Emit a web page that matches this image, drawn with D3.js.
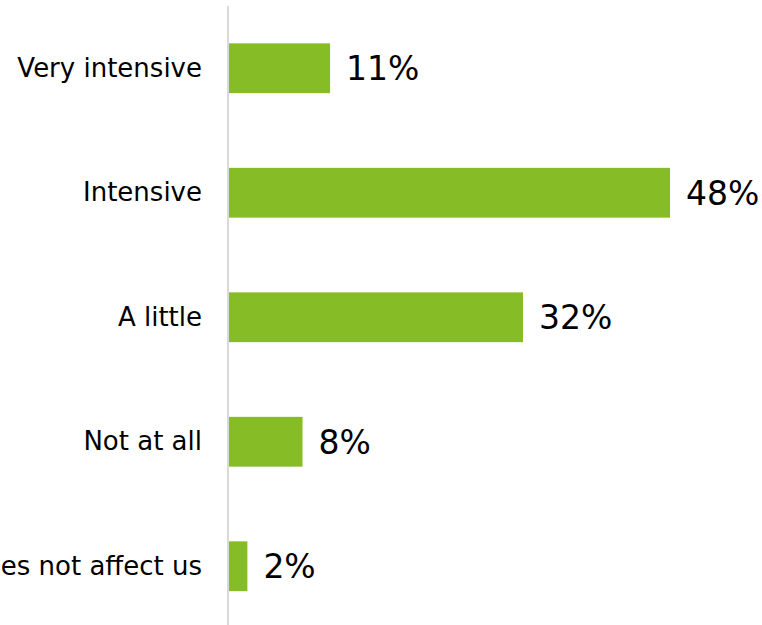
<!DOCTYPE html>
<html>
<head>
<meta charset="utf-8">
<script src="https://cdn.jsdelivr.net/npm/d3@7"></script>
<style>
  html, body { margin: 0; padding: 0; background: #fff; overflow: hidden; }
  text { font-family: Verdana, "DejaVu Sans", sans-serif; fill: #000; }
</style>
</head>
<body>
<div id="visualization"></div>
<script>
const categories = ['Very intensive', 'Intensive', 'A little', 'Not at all', 'Does not affect us'];
const values = [11, 48, 32, 8, 2];

document.addEventListener('DOMContentLoaded', () => {
    const width = 762;
    const height = 625;

    const svg = d3.select('#visualization')
        .append('svg')
        .attr('width', width)
        .attr('height', height);

    const xScale = d3.scaleLinear()
        .domain([0, 48])
        .range([229, 670]);

    const yScale = d3.scaleBand()
        .domain(categories)
        .range([6, 628.5])
        .paddingInner(0.6)
        .paddingOuter(0.3);

    // Bars
    svg.selectAll('rect.bar')
        .data(values)
        .enter()
        .append('rect')
        .attr('class', 'bar')
        .attr('x', xScale(0))
        .attr('y', (d, i) => yScale(categories[i]))
        .attr('width', d => xScale(d) - xScale(0))
        .attr('height', yScale.bandwidth())
        .attr('fill', '#86bc25');

    // Value labels
    svg.selectAll('text.value')
        .data(values)
        .enter()
        .append('text')
        .attr('class', 'value')
        .attr('x', d => xScale(d) + 16)
        .attr('y', (d, i) => yScale(categories[i]) + yScale.bandwidth() / 2)
        .attr('dy', '0.36em')
        .style('font-size', '33px')
        .text(d => d + '%');

    // Category axis
    const axis = svg.append('g')
        .attr('transform', `translate(${xScale(0) - 1},0)`)
        .call(d3.axisLeft(yScale).tickSize(0).tickPadding(26));

    axis.select('.domain')
        .attr('d', `M0,6V${height}`)
        .attr('stroke', '#d9d9d9')
        .attr('stroke-width', 2);

    axis.selectAll('.tick text')
        .style('font-size', '26px')
        .attr('fill', '#000');
});
</script>
</body>
</html>
